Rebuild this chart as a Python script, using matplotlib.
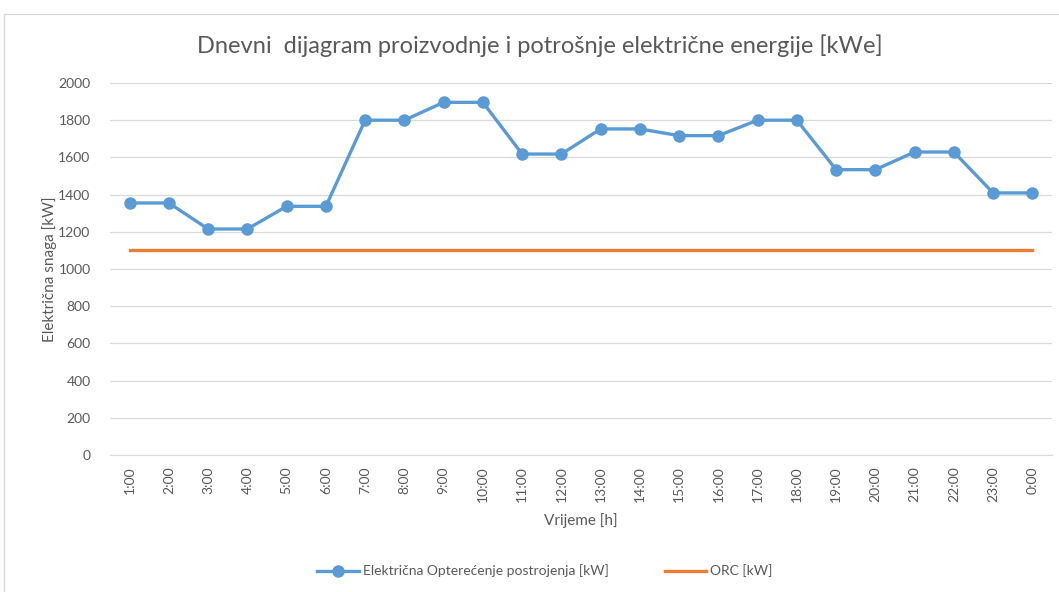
import matplotlib.pyplot as plt
from matplotlib.patches import Rectangle

# ----------- DATA -----------
sati = ["1:00", "2:00", "3:00", "4:00", "5:00", "6:00", "7:00", "8:00",
        "9:00", "10:00", "11:00", "12:00", "13:00", "14:00", "15:00", "16:00",
        "17:00", "18:00", "19:00", "20:00", "21:00", "22:00", "23:00", "0:00"]
opterecenje = [1355, 1355, 1215, 1215, 1337, 1337, 1800, 1800,
               1896, 1896, 1618, 1618, 1753, 1753, 1717, 1717,
               1800, 1800, 1534, 1534, 1629, 1629, 1409, 1409]
orc = [1100] * len(sati)
y_ticks = [0, 200, 400, 600, 800, 1000, 1200, 1400, 1600, 1800, 2000]

# ----------- PLOT -----------
plt.rcParams['font.family'] = ['Lato', 'DejaVu Sans']
siva = "#595959"

fig = plt.figure(figsize=(10.59, 5.92), dpi=100)
ax = fig.add_axes([110 / 1059, 137 / 592, 942 / 1059, 372 / 592])

# okvir grafikona
fig.patches.append(Rectangle((4 / 1059, -0.01), 1.0, 1 - 14 / 592 + 0.01,
                             transform=fig.transFigure, fill=False,
                             edgecolor="#D9D9D9", linewidth=1))

x = range(len(sati))
ax.plot(x, opterecenje, color="#5B9BD5", linewidth=2.4, marker='o',
        markersize=8, label="Električna Opterećenje postrojenja [kW]", zorder=3)
ax.plot(x, orc, color="#ED7D31", linewidth=2.4, label="ORC [kW]", zorder=3)

ax.set_xlim(-0.5, len(sati) - 0.5)
ax.set_ylim(0, 2000)
ax.set_yticks(y_ticks)
ax.set_xticks(list(x))
ax.set_xticklabels(sati, rotation=90)
ax.tick_params(axis='both', length=0, colors=siva, labelsize=10)
ax.tick_params(axis='y', pad=14)
ax.tick_params(axis='x', pad=8)
ax.grid(axis='y', color="#D9D9D9", linewidth=0.9)
ax.set_axisbelow(True)
for s in ["top", "right", "left"]:
    ax.spines[s].set_visible(False)
ax.spines["bottom"].set_color("#D9D9D9")

ax.set_xlabel("Vrijeme [h]", color=siva, fontsize=11, labelpad=8)
ax.set_ylabel("Električna snaga [kW]", color=siva, fontsize=11, labelpad=1)
fig.text(540 / 1059, 1 - 46 / 592,
         "Dnevni  dijagram proizvodnje i potrošnje električne energije [kWe]",
         ha='center', va='center', color=siva, fontsize=17)

fig.legend(loc='center', bbox_to_anchor=(545 / 1059, 1 - 571 / 592), ncol=2,
           frameon=False, fontsize=10, labelcolor=siva, handlelength=3,
           columnspacing=4, handletextpad=0.3)

fig.savefig("out.png", dpi=100)
